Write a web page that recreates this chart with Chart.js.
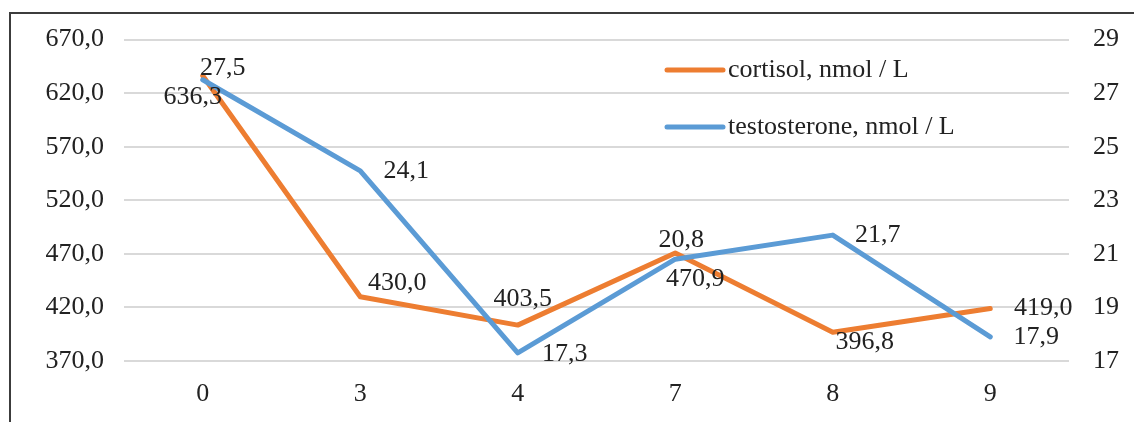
<!DOCTYPE html>
<html>
<head>
<meta charset="utf-8">
<script src="https://cdn.jsdelivr.net/npm/chart.js@4/dist/chart.umd.min.js"></script>
<style>
  html, body { margin: 0; padding: 0; background: #fff; }
  #wrap { width: 1134px; height: 422px; position: relative; }
</style>
</head>
<body>
<div id="wrap"><canvas id="hormoneChart"></canvas></div>
<script>
// data
const days = ["0", "3", "4", "7", "8", "9"];
const cortisol = [636.3, 430.0, 403.5, 470.9, 396.8, 419.0];
const testosterone = [27.5, 24.1, 17.3, 20.8, 21.7, 17.9];
const cortisolTicks = [370, 420, 470, 520, 570, 620, 670];
const testosteroneTicks = [17, 19, 21, 23, 25, 27, 29];

// where each value label sits relative to its point (px)
const cortisolLabelOffsets = [[-10, 21], [37, -14], [5, -26], [20, 26], [32, 10], [53, 0]];
const testosteroneLabelOffsets = [[20, -12], [46, 0], [47, 1], [6, -19], [45, 0], [46, 0]];

const FONT = "'Liberation Serif', 'Times New Roman', serif";
const TEXT = "#222";
const SIZE = 26;
const comma = v => Number(v).toFixed(1).replace(".", ",");

Chart.defaults.font.family = FONT;
Chart.defaults.font.size = SIZE;
Chart.defaults.color = TEXT;

const framePlugin = {
  id: "frame",
  beforeDraw(chart) {
    const c = chart.ctx;
    c.save();
    c.strokeStyle = "#3c3c3c";
    c.lineWidth = 2;
    c.beginPath();
    c.moveTo(10, chart.height);
    c.lineTo(10, 13);
    c.lineTo(chart.width, 13);
    c.stroke();
    c.restore();
  }
};

const labelPlugin = {
  id: "valueLabels",
  afterDatasetsDraw(chart) {
    const c = chart.ctx;
    c.save();
    c.font = SIZE + "px " + FONT;
    c.fillStyle = TEXT;
    c.textAlign = "center";
    c.textBaseline = "middle";
    chart.data.datasets.forEach((ds, i) => {
      const meta = chart.getDatasetMeta(i);
      meta.data.forEach((pt, j) => {
        const off = ds.labelOffsets[j];
        const txt = ds.yAxisID === "yL" ? comma(ds.data[j]) : String(ds.data[j]).replace(".", ",");
        c.fillText(txt, pt.x + off[0], pt.y + off[1]);
      });
    });
    c.restore();
  }
};

const legendPlugin = {
  id: "insideLegend",
  afterDraw(chart) {
    const c = chart.ctx;
    c.save();
    c.font = SIZE + "px " + FONT;
    c.fillStyle = TEXT;
    c.textBaseline = "middle";
    c.lineCap = "round";
    const rows = [70, 127];
    chart.data.datasets.forEach((ds, i) => {
      const y = rows[i];
      c.strokeStyle = ds.borderColor;
      c.lineWidth = 5;
      c.beginPath();
      c.moveTo(667, y);
      c.lineTo(723, y);
      c.stroke();
      c.fillText(ds.label, 728, y);
    });
    c.restore();
  }
};

new Chart("hormoneChart", {
  type: "line",
  data: {
    labels: days,
    datasets: [
      {
        label: "cortisol, nmol / L",
        data: cortisol,
        yAxisID: "yL",
        borderColor: "#ED7D31",
        borderWidth: 5,
        pointRadius: 0,
        tension: 0,
        borderCapStyle: "round",
        borderJoinStyle: "round",
        labelOffsets: cortisolLabelOffsets,
        order: 2
      },
      {
        label: "testosterone, nmol / L",
        data: testosterone,
        yAxisID: "yR",
        borderColor: "#5B9BD5",
        borderWidth: 5,
        pointRadius: 0,
        tension: 0,
        borderCapStyle: "round",
        borderJoinStyle: "round",
        labelOffsets: testosteroneLabelOffsets,
        order: 1
      }
    ]
  },
  options: {
    responsive: true,
    maintainAspectRatio: false,
    animation: false,
    layout: { padding: { top: 39, left: 0, right: 0, bottom: 0 } },
    plugins: { legend: { display: false }, tooltip: { enabled: false } },
    scales: {
      x: {
        offset: true,
        grid: { display: false, drawTicks: false },
        border: { display: false },
        ticks: { padding: 18, color: TEXT },
        afterFit: s => { s.height = 61; }
      },
      yL: {
        position: "left",
        min: cortisolTicks[0],
        max: cortisolTicks[cortisolTicks.length - 1],
        afterBuildTicks: s => { s.ticks = cortisolTicks.map(v => ({ value: v })); },
        grid: { color: "#d9d9d9", lineWidth: 2, drawTicks: false },
        border: { display: false },
        ticks: { padding: 20, color: TEXT, callback: v => comma(v) },
        afterFit: s => { s.width = 124; }
      },
      yR: {
        position: "right",
        min: testosteroneTicks[0],
        max: testosteroneTicks[testosteroneTicks.length - 1],
        afterBuildTicks: s => { s.ticks = testosteroneTicks.map(v => ({ value: v })); },
        grid: { display: false, drawTicks: false },
        border: { display: false },
        ticks: { padding: 24, color: TEXT },
        afterFit: s => { s.width = 65; }
      }
    }
  },
  plugins: [framePlugin, labelPlugin, legendPlugin]
});
</script>
</body>
</html>
